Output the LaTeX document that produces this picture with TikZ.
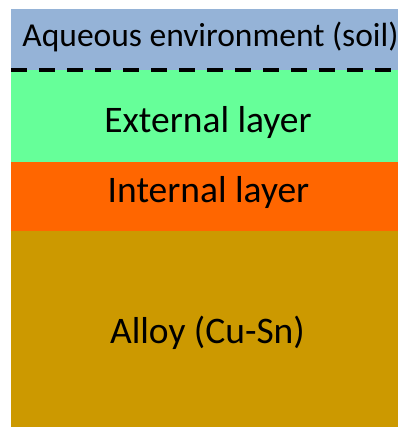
\documentclass[tikz,border=0pt]{standalone}
\usepackage{fontspec}
\setmainfont{Carlito}
\definecolor{soilblue}{RGB}{149,179,215}
\definecolor{extgreen}{RGB}{102,255,153}
\definecolor{intorange}{RGB}{255,102,0}
\definecolor{alloygold}{RGB}{204,153,0}
\tikzset{
  lbl/.style={anchor=base, inner sep=0pt, text=black},
  iface/.style={line width=4pt, dash pattern=on 16pt off 12pt},
}
\begin{document}
\begin{tikzpicture}[x=1pt,y=1pt]
\useasboundingbox (0,0) rectangle (398,427);
% layers (image y measured downward: y_tikz = 427 - y_img)
\fill[soilblue]  (11,427-9)   rectangle (398,427-70.5);
\fill[extgreen]  (11,427-70.5) rectangle (398,427-162);
\fill[intorange] (11,427-162) rectangle (398,427-231);
\fill[alloygold] (11,427-231) rectangle (398,0);
\coordinate (dl) at (11,427-70.5);
\coordinate (dr) at (398,427-70.5);
\draw[iface] (dl) -- (dr);
\node[lbl, font=\fontsize{33.5}{38}\selectfont] (aq) at (210.5,427-47) {Aqueous environment (soil)};
\node[lbl, font=\fontsize{37.5}{42}\selectfont] (ext) at (208,427-133) {External layer};
\node[lbl, font=\fontsize{37.5}{42}\selectfont] (int) at (208.5,427-203) {Internal layer};
\node[lbl, font=\fontsize{37.5}{42}\selectfont] (al) at (207.5,427-344) {Alloy (Cu-Sn)};
\end{tikzpicture}
\end{document}
